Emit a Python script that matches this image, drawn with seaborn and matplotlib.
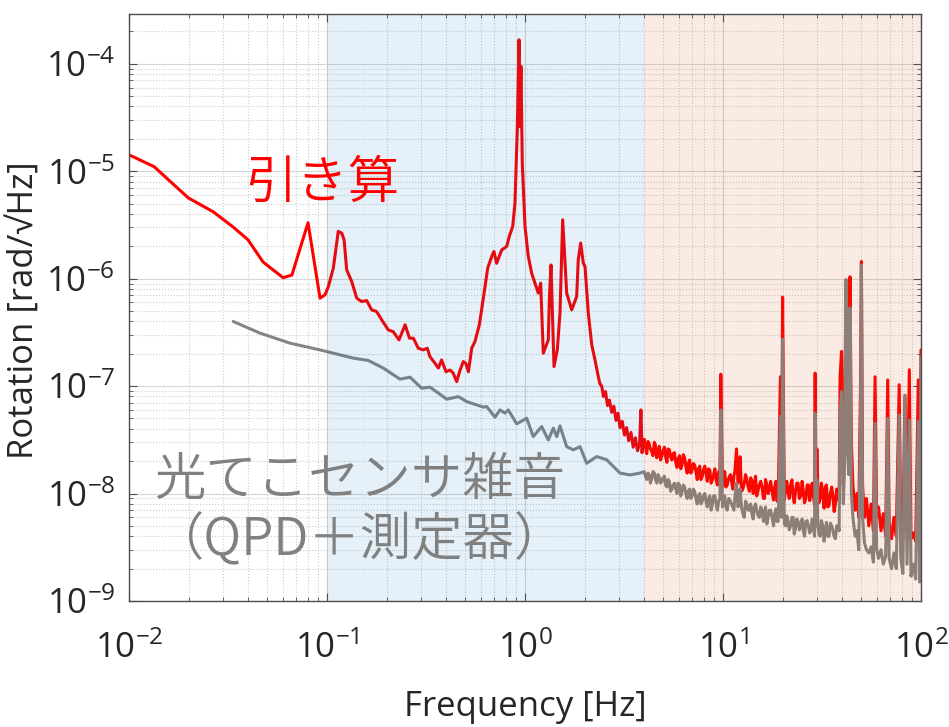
import numpy as np
import pandas as pd
import matplotlib
matplotlib.use("Agg")
import matplotlib.pyplot as plt
import seaborn as sns
from matplotlib.ticker import LogLocator, NullFormatter

# ---------------- data ----------------
# Subtraction signal ("引き算"), low-frequency part
red_lf_freq = [
    0.0100, 0.0134, 0.0199, 0.0266, 0.0335, 0.0399, 0.0475, 0.0600, 0.0665, 0.0802,
    0.0922, 0.0977, 0.1016, 0.1076, 0.1140, 0.1187, 0.1220, 0.1257, 0.1333, 0.1413,
    0.1496, 0.1587, 0.168, 0.178, 0.189, 0.204, 0.216, 0.231, 0.248, 0.261,
    0.273, 0.289, 0.306, 0.321, 0.331, 0.351, 0.365, 0.379, 0.399, 0.418,
    0.434, 0.452, 0.470, 0.488, 0.502, 0.518, 0.538, 0.559, 0.588, 0.616,
    0.648, 0.679, 0.697, 0.719, 0.763, 0.808, 0.833, 0.867, 0.890, 0.914,
    0.933, 0.943, 0.954, 0.969, 1.000, 1.039, 1.081, 1.123, 1.167, 1.200,
    1.237, 1.311, 1.327, 1.353, 1.401, 1.456, 1.502, 1.550, 1.624, 1.721,
    1.824, 1.858, 1.911, 1.970, 2.009, 2.088, 2.173, 2.257, 2.346, 2.39,
    2.44, 2.49, 2.55, 2.61, 2.67, 2.74, 2.81, 2.88, 2.95, 3.02,
    3.10, 3.18, 3.26, 3.34, 3.43, 3.52, 3.61, 3.70, 3.79, 3.85,
    3.90, 3.95,
]
red_lf_asd = [
    1.42e-5, 1.10e-5, 5.65e-6, 4.19e-6, 3.03e-6, 2.30e-6, 1.43e-6, 1.02e-6, 1.08e-6, 3.31e-6,
    6.58e-7, 7.06e-7, 8.44e-7, 1.25e-6, 2.75e-6, 2.65e-6, 2.30e-6, 1.21e-6, 9.40e-7, 6.58e-7,
    6.12e-7, 6.25e-7, 5.12e-7, 4.94e-7, 4.13e-7, 3.33e-7, 3.21e-7, 2.69e-7, 3.72e-7, 2.79e-7,
    2.79e-7, 2.25e-7, 2.17e-7, 2.25e-7, 1.88e-7, 1.63e-7, 1.47e-7, 1.75e-7, 1.36e-7, 1.41e-7,
    1.32e-7, 1.10e-7, 1.41e-7, 1.69e-7, 1.63e-7, 1.36e-7, 2.25e-7, 2.60e-7, 3.72e-7, 6.58e-7,
    1.25e-6, 1.61e-6, 1.79e-6, 1.39e-6, 1.85e-6, 1.99e-6, 2.47e-6, 3.06e-6, 5.05e-6, 2.43e-5,
    1.67e-4, 2.59e-5, 9.44e-5, 1.19e-5, 3.06e-6, 1.61e-6, 1.12e-6, 9.08e-7, 7.33e-7, 9.08e-7,
    2.02e-7, 2.69e-7, 6.35e-7, 1.34e-6, 1.52e-7, 2.17e-7, 4.77e-7, 3.53e-6, 7.33e-7, 5.12e-7,
    6.81e-7, 1.50e-6, 2.14e-6, 1.39e-6, 1.30e-6, 4.77e-7, 2.42e-7, 1.75e-7, 1.22e-7, 1.05e-7,
    1.0e-7, 8.0e-8, 8.9e-8, 6.6e-8, 7.4e-8, 5.7e-8, 6.5e-8, 4.8e-8, 5.6e-8, 4.1e-8,
    4.7e-8, 3.5e-8, 4.1e-8, 3.1e-8, 3.7e-8, 2.7e-8, 3.3e-8, 2.5e-8, 2.9e-8, 6.0e-8,
    2.4e-8, 3.0e-8,
]

# Optical-lever sensor noise ("光てこセンサ雑音"), low-frequency part
gray_lf_freq = [
    0.0336, 0.0459, 0.0650, 0.0922, 0.1358, 0.1617, 0.1925, 0.2337, 0.2626, 0.3007,
    0.3315, 0.4025, 0.4606, 0.5076, 0.6158, 0.6407, 0.7056, 0.7475, 0.7925, 0.8235,
    0.908, 1.020, 1.101, 1.214, 1.311, 1.390, 1.446, 1.502, 1.624, 1.754,
    1.896, 2.049, 2.302, 2.586, 3.018, 3.391, 3.81,
]
gray_lf_asd = [
    3.99e-7, 3.11e-7, 2.51e-7, 2.17e-7, 1.82e-7, 1.73e-7, 1.47e-7, 1.16e-7, 1.21e-7, 9.55e-8,
    9.77e-8, 7.55e-8, 7.98e-8, 7.17e-8, 6.37e-8, 6.44e-8, 5.13e-8, 6.0e-8, 5.6e-8, 6.0e-8,
    4.45e-8, 5.02e-8, 3.39e-8, 4.20e-8, 3.15e-8, 4.06e-8, 3.39e-8, 4.26e-8, 2.73e-8, 2.55e-8,
    2.73e-8, 1.91e-8, 2.21e-8, 2.06e-8, 1.55e-8, 1.49e-8, 1.55e-8,
]

# High-frequency part (shared frequency bins), values in nrad/sqrt(Hz)
hf_freq = [
    4.0, 4.12, 4.24, 4.37, 4.5, 4.63, 4.77, 4.91, 5.06, 5.21,
    5.36, 5.52, 5.69, 5.86, 6.03, 6.21, 6.4, 6.59, 6.78, 6.98,
    7.19, 7.41, 7.63, 7.86, 8.09, 8.33, 8.58, 8.84, 9.1, 9.37,
    9.65, 9.75, 9.94, 10.2, 10.5, 10.9, 11.2, 11.5, 11.7, 11.9,
    12.2, 12.6, 13.0, 13.4, 13.8, 14.2, 14.6, 15.0, 15.5, 16.0,
    16.4, 16.9, 17.4, 18.0, 18.5, 19.0, 19.5, 19.75, 20.0, 20.4,
    21.0, 21.6, 22.3, 22.9, 23.6, 24.3, 25.1, 25.8, 26.6, 27.4,
    28.2, 29.0, 29.2, 29.5, 29.8, 30.5, 31.4, 32.4, 33.3, 34.3,
    35.4, 36.4, 37.5, 38.6, 39.0, 39.7, 40.5, 41.0, 41.8, 42.5,
    43.2, 43.8, 44.5, 45.3, 46.5, 47.5, 48.5, 49.5, 50.0, 50.7,
    51.8, 53.0, 54.5, 56.0, 57.5, 58.6, 59.7, 61.0, 62.8, 64.5,
    66.3, 67.9, 69.0, 71.0, 73.0, 75.0, 77.6, 79.0, 81.0, 83.0,
    85.0, 87.3, 89.0, 91.5, 94.0, 96.9, 98.5, 100.0,
]
red_hf_nrad = [
    32, 23.5, 29, 24.5, 30, 21.5, 27.5, 22.5, 27, 19.5,
    25.5, 20.5, 24, 17.5, 22.5, 18.5, 21.5, 15.5, 20.5, 16.5,
    18.5, 13.5, 18, 14.5, 18, 13, 16.5, 13.5, 17, 12,
    15.5, 129, 11.5, 16, 12, 15, 11, 16.5, 26, 12.5,
    22, 11, 15, 11.5, 14, 10, 14.5, 10.5, 13, 9,
    13.5, 10, 13, 8.7, 13, 9.5, 122, 10.5, 673, 8.7,
    13, 9, 13.4, 8.2, 12.5, 9, 13, 8.2, 12, 8.6,
    12.5, 7.8, 132, 10, 26, 8.2, 12.5, 7.3, 12, 7.7,
    11.5, 6.8, 11, 8.5, 122, 210, 12, 20, 975, 40,
    60, 1040, 30, 12, 7, 10, 6, 110, 1440, 12,
    6, 9, 5, 8, 4.5, 122, 6, 7.5, 4.5, 6.5,
    4, 114, 5.5, 3.8, 6, 4, 103, 5, 3.8, 82,
    4.5, 142, 3.8, 4.3, 3.6, 114, 3.6, 217,
]
gray_hf_nrad = [
    16, 13.5, 15, 14, 15.5, 12.5, 14, 13, 14.5, 11.5,
    13, 11, 12.5, 10, 12, 10.5, 11.5, 9, 11, 9.5,
    10.5, 8, 10, 8.5, 10, 7.5, 9.5, 8, 9.5, 7,
    9, 60, 7.5, 9.5, 7, 8.5, 7.5, 9.5, 12.5, 7.5,
    11, 6.5, 8.5, 7, 8, 5.8, 8, 6.3, 7.5, 5.5,
    7.5, 6, 7, 5, 7.2, 5.5, 52, 6, 273, 5.2,
    6.2, 4.6, 6, 4.2, 5.8, 4.6, 5.8, 4, 5.6, 4.3,
    5.8, 4, 56, 5, 13.4, 4.2, 5.6, 3.6, 5.4, 4,
    5, 4, 5, 4.5, 54, 89, 8, 15, 975, 25,
    15, 535, 10, 6, 4, 4.5, 3, 50, 1340, 6,
    3.5, 3, 2.8, 3.2, 2.3, 45, 3, 2.5, 3, 2.2,
    2.6, 50, 2.5, 2, 2.8, 2, 54, 2.5, 1.8, 82,
    2.2, 48, 1.7, 2.2, 1.6, 47, 1.5, 188,
]

# extra bins of the noise floor between 4 and 39 Hz (nrad/sqrt(Hz))
hf2_freq = [
    4.06, 4.18, 4.30, 4.43, 4.56, 4.70, 4.84, 4.98, 5.13, 5.28,
    5.44, 5.60, 5.77, 5.94, 6.12, 6.30, 6.49, 6.68, 6.88, 7.08,
    7.30, 7.52, 7.74, 7.97, 8.21, 8.45, 8.71, 8.97, 9.23, 9.51,
    10.05, 10.35, 10.7, 11.05, 11.35, 12.05, 12.4, 12.8, 13.2, 13.6,
    14.0, 14.4, 14.8, 15.25, 15.75, 16.2, 16.65, 17.15, 17.7, 18.25,
    18.75, 20.7, 21.3, 21.95, 22.6, 23.25, 23.95, 24.7, 25.45, 26.2,
    27.0, 27.8, 28.6, 30.15, 30.95, 31.9, 32.85, 33.8, 34.85, 35.9,
    36.95, 38.05,
]
red_hf2_nrad = [
    27, 30.5, 26, 22.5, 28, 24, 20.5, 25, 22, 26,
    22, 23.5, 19.5, 21, 17, 23, 18, 19, 15.5, 19,
    16, 17, 13.5, 16.5, 15.5, 17, 12.5, 15, 13.5, 16,
    13, 11.5, 14, 13, 14.5, 13.5, 10.5, 12.5, 13.5, 10.5,
    13, 12, 9.5, 12, 11.5, 9, 12, 11, 10.5, 11.5,
    8.5, 11, 10.5, 12, 9.5, 10.5, 12.5, 9.5, 10.5, 9,
    12, 10, 9.5, 11, 9, 10, 11.5, 7.5, 10, 9.5,
    8, 10,
]
gray_hf2_nrad = [
    14.5, 15.5, 12.5, 16, 13.5, 15, 12.5, 14, 12, 13.5,
    10.5, 12, 11, 12.5, 9.5, 12, 10, 10.5, 9, 11,
    9, 9.5, 8, 9.5, 8.5, 9, 7, 9.5, 8, 8.5,
    8.5, 7.5, 9, 8, 7, 8, 7.5, 6, 8, 7,
    6.5, 7.5, 7, 6, 7, 6.5, 5.2, 7, 6, 6.5,
    5.5, 5, 5.5, 5, 6, 4.8, 5.5, 5, 4.5, 5.5,
    5, 4.5, 5, 5, 4, 5, 4.5, 4, 5.3, 4.5,
    3.8, 5,
]

# shaded bands [Hz]
band_blue = (0.1, 4.0)
band_orange = (4.0, 100.0)

x_ticks = [1e-2, 1e-1, 1e0, 1e1, 1e2]
y_ticks = [1e-9, 1e-8, 1e-7, 1e-6, 1e-5, 1e-4]

# ---------------- build tables ----------------
NRAD = 1e-9


def build(lf_f, lf_v, hf_v, hf2_v):
    lf = pd.DataFrame({"Frequency": lf_f, "ASD": lf_v})
    hf = pd.DataFrame({
        "Frequency": list(hf_freq) + list(hf2_freq),
        "ASD": [v * NRAD for v in hf_v] + [v * NRAD for v in hf2_v],
    }).sort_values("Frequency", kind="stable")
    return pd.concat([lf, hf], ignore_index=True)


red_df = build(red_lf_freq, red_lf_asd, red_hf_nrad, red_hf2_nrad)
gray_df = build(gray_lf_freq, gray_lf_asd, gray_hf_nrad, gray_hf2_nrad)

# ---------------- style ----------------
sns.set_theme(style="ticks")
plt.rcParams["font.family"] = ["Open Sans", "Noto Sans CJK JP", "DejaVu Sans"]
plt.rcParams["mathtext.fontset"] = "custom"
plt.rcParams["mathtext.rm"] = "Open Sans"
plt.rcParams["mathtext.it"] = "Open Sans:italic"
plt.rcParams["mathtext.bf"] = "Open Sans:bold"
plt.rcParams["axes.unicode_minus"] = False

fig = plt.figure(figsize=(9.49, 7.27), dpi=100)
ax = fig.add_axes([129 / 949, 126 / 727, 792 / 949, 587 / 727])
ax.set_xscale("log")
ax.set_yscale("log")

sns.lineplot(data=red_df, x="Frequency", y="ASD", ax=ax, color="#ff0000",
             lw=2.2, estimator=None, sort=False, zorder=2)
sns.lineplot(data=gray_df, x="Frequency", y="ASD", ax=ax, color="#848484",
             lw=2.2, estimator=None, sort=False, zorder=2.1)

ax.axvspan(*band_blue, color=(0.0, 0.447, 0.741), alpha=0.10, lw=0, zorder=2.5)
ax.axvspan(*band_orange, color=(0.85, 0.325, 0.098), alpha=0.11, lw=0, zorder=2.5)

ax.set_xlim(1e-2, 1e2)
ax.set_ylim(1e-9, 2.9e-4)
ax.set_xticks(x_ticks)
ax.set_yticks(y_ticks)
ax.xaxis.set_minor_locator(LogLocator(base=10, subs=np.arange(2, 10), numticks=20))
ax.yaxis.set_minor_locator(LogLocator(base=10, subs=np.arange(2, 10), numticks=20))
ax.xaxis.set_minor_formatter(NullFormatter())
ax.yaxis.set_minor_formatter(NullFormatter())

ax.grid(which="major", color="#d6d6d6", lw=0.8, ls="-")
ax.grid(which="minor", color="#cdcdcd", lw=0.8, ls=":")
ax.set_axisbelow(True)

for s in ax.spines.values():
    s.set_color("#4d4d4d")
    s.set_linewidth(1.0)

ax.tick_params(which="both", direction="in", top=True, right=True,
               color="#4d4d4d", labelcolor="#262626")
ax.tick_params(which="major", length=6, width=0.8, labelsize=25)
ax.tick_params(which="minor", length=3, width=0.6)
ax.tick_params(axis="y", which="major", pad=10)
ax.tick_params(axis="x", which="major", pad=22)

ax.set_xlabel("Frequency [Hz]", fontsize=25, color="#262626")
ax.set_ylabel("Rotation [rad/√Hz]", fontsize=25, color="#262626")
ax.xaxis.label.set_va("center")
ax.yaxis.label.set_va("center")
ax.xaxis.set_label_coords(0.5, -0.18)
ax.yaxis.set_label_coords(-0.133, 0.496)

cjk = ["Noto Sans CJK JP", "DejaVu Sans"]
ax.text(0.2437, 0.712, "引き算", transform=ax.transAxes, color="#ff0000",
        fontsize=37, ha="center", va="center", family=cjk, fontweight=350, zorder=5)
ax.text(0.2917, 0.206, "光てこセンサ雑音", transform=ax.transAxes, color="#808080",
        fontsize=37, ha="center", va="center", family=cjk, fontweight=350, zorder=5)
ax.text(0.2917, 0.104, "（QPD＋測定器）", transform=ax.transAxes, color="#808080",
        fontsize=37, ha="center", va="center", family=cjk, fontweight=350, zorder=5)

fig.savefig("out.png", dpi=100)
